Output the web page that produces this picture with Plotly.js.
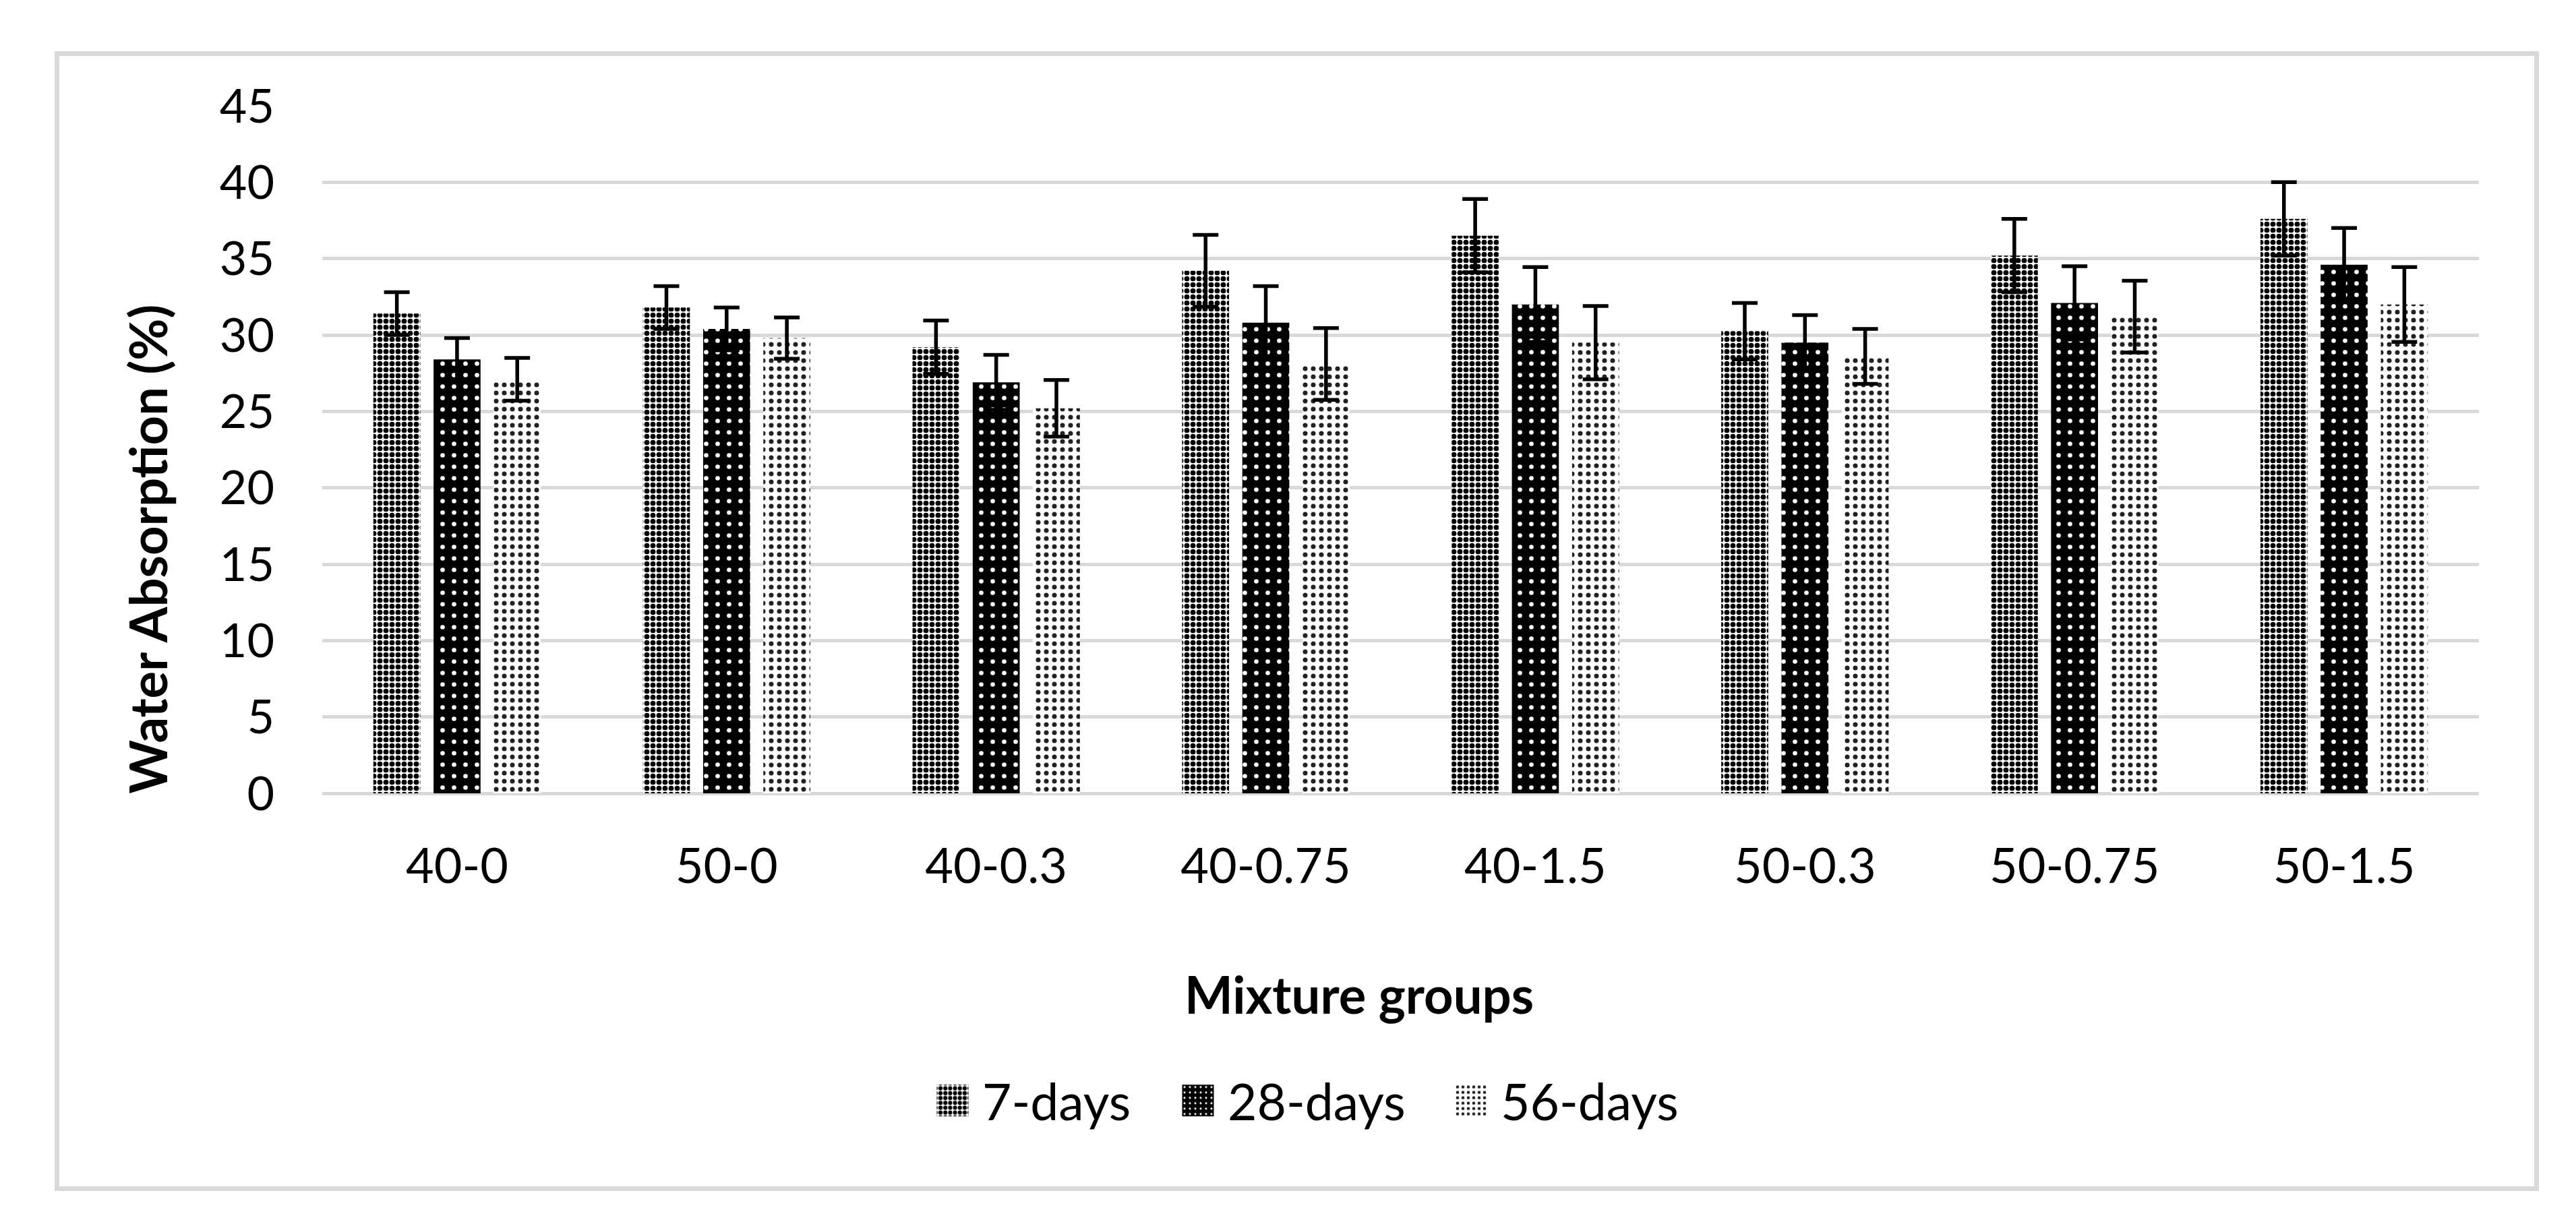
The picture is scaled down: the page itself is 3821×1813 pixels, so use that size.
<!DOCTYPE html>
<html>
<head>
<meta charset="utf-8">
<script src="https://cdn.plot.ly/plotly-3.0.1.min.js"></script>
<style>
  html, body { margin: 0; padding: 0; background: #ffffff; }
  #frame { position: absolute; left: 81px; top: 76px; width: 3685px; height: 1691px;
           border: 7px solid #d9d9d9; box-sizing: border-box; pointer-events: none; }
  #chart { position: absolute; left: 0; top: 0; width: 3821px; height: 1813px; }
</style>
</head>
<body>
<div id="frame"></div>
<div id="chart"></div>
<script>
// ---- data ----
const categories = ['40-0', '50-0', '40-0.3', '40-0.75', '40-1.5', '50-0.3', '50-0.75', '50-1.5'];
const seriesNames = ['7-days', '28-days', '56-days'];
const days7  = [31.4, 31.8, 29.2, 34.2, 36.5, 30.25, 35.2, 37.6];
const days28 = [28.4, 30.4, 26.9, 30.8, 32.0, 29.5, 32.1, 34.6];
const days56 = [27.1, 29.8, 25.2, 28.1, 29.5, 28.6, 31.2, 32.0];
const err7   = [1.4, 1.4, 1.75, 2.35, 2.4, 1.85, 2.4, 2.4];
const err28  = [1.4, 1.4, 1.8, 2.4, 2.45, 1.8, 2.4, 2.4];
const err56  = [1.4, 1.35, 1.85, 2.35, 2.4, 1.8, 2.35, 2.45];
const yTicks = [0, 5, 10, 15, 20, 25, 30, 35, 40, 45];

const FONT = 'Lato, "Open Sans", sans-serif';

function errBar(arr) {
  return { type: 'data', array: arr, visible: true, color: '#000000', thickness: 5.5, width: 19 };
}

const traces = [
  {
    type: 'bar', name: seriesNames[0], x: categories, y: days7,
    error_y: errBar(err7),
    marker: { color: '#ffffff', line: { width: 0 },
      pattern: { shape: '.', size: 9, solidity: 0.58, fgcolor: '#000000', bgcolor: '#ffffff', fgopacity: 1 } }
  },
  {
    type: 'bar', name: seriesNames[1], x: categories, y: days28,
    error_y: errBar(err28),
    marker: { color: '#000000', line: { width: 0 },
      pattern: { shape: '.', size: 17, solidity: 0.12, fgcolor: '#ffffff', bgcolor: '#000000', fgopacity: 1 } }
  },
  {
    type: 'bar', name: seriesNames[2], x: categories, y: days56,
    error_y: errBar(err56),
    marker: { color: '#ffffff', line: { width: 0 },
      pattern: { shape: '.', size: 12, solidity: 0.27, fgcolor: '#222222', bgcolor: '#ffffff', fgopacity: 1 } }
  }
];

const layout = {
  width: 3821, height: 1813,
  margin: { l: 478, r: 144, t: 157, b: 636, pad: 0 },
  paper_bgcolor: 'rgba(0,0,0,0)',
  plot_bgcolor: '#ffffff',
  font: { family: FONT, size: 72, color: '#000000' },
  barmode: 'group',
  bargap: 0.33,
  bargroupgap: 0.22,
  showlegend: true,
  legend: {
    orientation: 'h', x: 0.4564, xanchor: 'center', y: -0.447, yanchor: 'middle',
    font: { family: FONT, size: 75, color: '#000000' },
    itemwidth: 30, bgcolor: 'rgba(0,0,0,0)', traceorder: 'normal'
  },
  xaxis: {
    type: 'category', categoryorder: 'array', categoryarray: categories,
    showgrid: false, zeroline: false, showline: false, ticks: '',
    ticklabelstandoff: 60,
    tickfont: { family: FONT, size: 72, color: '#000000' }
  },
  yaxis: {
    range: [0, 45], tickmode: 'array', tickvals: yTicks, ticktext: yTicks.map(String),
    showgrid: true, gridcolor: '#d9d9d9', gridwidth: 5,
    zeroline: true, zerolinecolor: '#d9d9d9', zerolinewidth: 5,
    showline: false, ticks: '', ticklabelstandoff: 70,
    tickfont: { family: FONT, size: 70, color: '#000000' }
  },
  annotations: [
    { text: '<b>Water Absorption (%)</b>', xref: 'paper', yref: 'paper',
      x: -0.081, y: 0.355, xanchor: 'center', yanchor: 'middle', textangle: -90,
      showarrow: false, font: { family: FONT, size: 76, color: '#000000' } },
    { text: '<b>Mixture groups</b>', xref: 'paper', yref: 'paper',
      x: 0.4808, y: -0.292, xanchor: 'center', yanchor: 'middle',
      showarrow: false, font: { family: FONT, size: 76, color: '#000000' } }
  ]
};

// legend layout tuning: page x of each swatch centre, swatch-to-text distance
const legendSwatchCentres = [1413, 1777, 2182];
const legendTextStartFromCentre = 44;

Plotly.newPlot('chart', traces, layout, { staticPlot: true, displayModeBar: false }).then(function () {
  document.querySelectorAll('.legend [clip-path]').forEach(function (el) { el.removeAttribute('clip-path'); });
  const items = document.querySelectorAll('.legend .traces');
  items.forEach(function (g, i) {
    const p = g.querySelector('.legendpoints path');
    if (!p) return;
    p.setAttribute('d', 'M23.5,23.5H-23.5V-23.5H23.5Z');
    const r = p.getBoundingClientRect();
    const cx = r.left + r.width / 2;
    const t = g.getAttribute('transform') || '';
    const m = /translate\(\s*([-\d.eE]+)[\s,]+([-\d.eE]+)/.exec(t);
    const a = m ? parseFloat(m[1]) : 0;
    const b = m ? parseFloat(m[2]) : 0;
    g.setAttribute('transform', 'translate(' + (a + legendSwatchCentres[i] - cx) + ',' + b + ')');
    const txt = g.querySelector('.legendtext');
    if (txt) {
      const tr = txt.getBoundingClientRect();
      const shift = (legendSwatchCentres[i] + legendTextStartFromCentre) - tr.left;
      txt.setAttribute('x', parseFloat(txt.getAttribute('x') || '0') + shift);
    }
  });
});
</script>
</body>
</html>
